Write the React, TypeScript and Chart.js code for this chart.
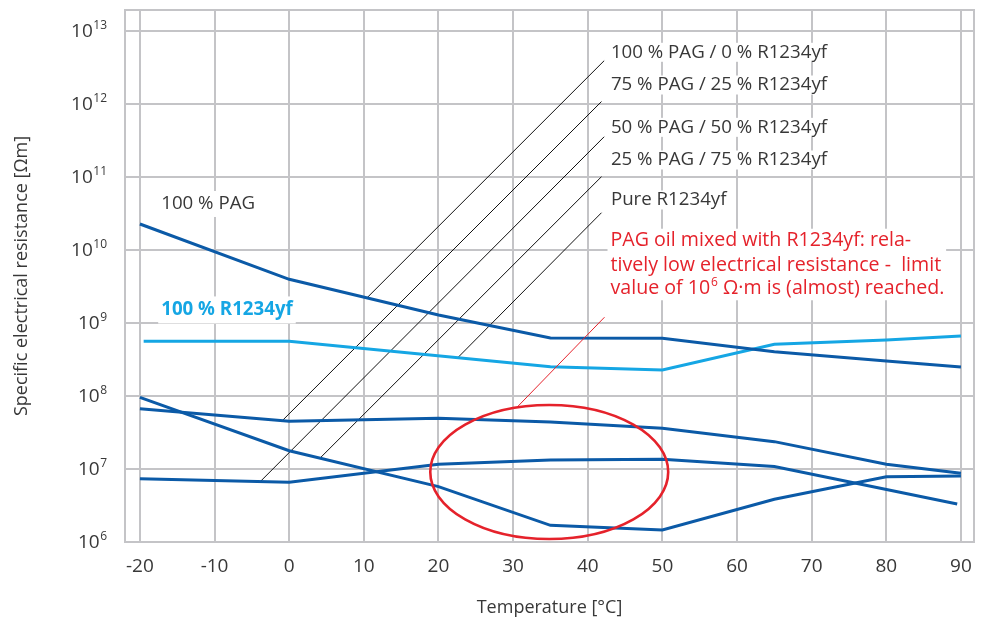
import React, { useEffect, useRef } from 'react';
import { Chart, registerables } from 'chart.js';

Chart.register(...registerables);

// ---------- data ----------
const X_TICKS = [-20, -10, 0, 10, 20, 30, 40, 50, 60, 70, 80, 90];
const Y_EXPONENTS = [6, 7, 8, 9, 10, 11, 12, 13];

const tempsPag100 = [-20, 0, 20, 35, 50, 65, 80, 90];
const pag100 = [2.27e10, 3.97e9, 1.29e9, 6.24e8, 6.2e8, 4.05e8, 3.01e8, 2.49e8];

const tempsR100 = [-19.5, 0, 35, 50, 65, 80, 90];
const r1234yf100 = [5.61e8, 5.61e8, 2.52e8, 2.27e8, 5.11e8, 5.85e8, 6.64e8];

const tempsPag75 = [-20, 0, 20, 35, 50, 65, 80, 90];
const pag75 = [6.7e7, 4.5e7, 4.95e7, 4.41e7, 3.61e7, 2.37e7, 1.16e7, 8.73e6];

const tempsPag50 = [-20, 0, 20, 35, 50, 65, 89.5];
const pag50 = [7.36e6, 6.58e6, 1.16e7, 1.33e7, 1.36e7, 1.08e7, 3.32e6];

const tempsPag25 = [-20, 0, 20, 35, 50, 65, 80, 90];
const pag25 = [9.6e7, 1.78e7, 5.73e6, 1.69e6, 1.46e6, 3.85e6, 7.85e6, 8.0e6];

// leader labels (text, anchor in data coords)
const mixLabels = [
  '100 % PAG / 0 % R1234yf',
  '75 % PAG / 25 % R1234yf',
  '50 % PAG / 50 % R1234yf',
  '25 % PAG / 75 % R1234yf',
  'Pure R1234yf',
];
const mixLabelX = 43.1;
const mixLabelY = [5.11e12, 1.82e12, 4.79e11, 1.71e11, 4.84e10];
// leader lines: from point on curve to label
const leaderFromX = [10.32, -0.84, -3.89, 4.25, 22.55];
const leaderFromY = [2.16e9, 4.69e7, 6.7e6, 1.45e7, 3.32e8];
const leaderToX = [42.2, 41.84, 42.2, 41.84, 41.84];
const leaderToY = [3.92e12, 1.08e12, 3.56e11, 1.01e11, 3.24e10];

const noteLines = [
  'PAG oil mixed with R1234yf: rela-',
  'tively low electrical resistance -  limit',
];
const noteLast = ['value of 10', '6', ' \u03A9\u00B7m is (almost) reached.'];
const noteX = 43.05;
const noteY = [1.34e10, 6.24e9, 2.99e9];
const noteLeaderX = [30.59, 42.24];
const noteLeaderY = [7.13e7, 1.2e9];
const ellipseX = [18.9, 50.78];
const ellipseY = [1.1e6, 7.53e7];

const pagLabel = '100 % PAG';
const pagLabelPos = [-17.15, 4.27e10];
const rLabel = '100 % R1234yf';
const rLabelPos = [-17.15, 1.51e9];

// ---------- styles ----------
const FAMILY = "'Open Sans', 'Noto Sans', sans-serif";
const GRID = '#c4c4c7';
const TEXT = '#383838';
const DARK = '#0b5aa7';
const LIGHT = '#15a6e4';
const RED = '#e5222b';

const pts = (xs: number[], ys: number[]) => xs.map((x, i) => ({ x, y: ys[i] }));

const annotPlugin = {
  id: 'annot',
  beforeDatasetsDraw(chart: any) {
    const { ctx, chartArea: a, scales } = chart;
    const sx = scales.x, sy = scales.y;
    ctx.save();
    // frame top + right
    ctx.strokeStyle = GRID;
    ctx.lineWidth = 2;
    ctx.beginPath();
    ctx.moveTo(a.left, a.top);
    ctx.lineTo(a.right, a.top);
    ctx.lineTo(a.right, a.bottom);
    ctx.stroke();

    const boxText = (txt: string, px: number, py: number, font: string, color: string, h: number) => {
      ctx.font = font;
      const w = ctx.measureText(txt).width;
      ctx.fillStyle = '#fff';
      ctx.fillRect(px - 3, py - h / 2, w + 6, h);
      ctx.fillStyle = color;
      ctx.textAlign = 'left';
      ctx.textBaseline = 'middle';
      ctx.fillText(txt, px, py);
    };

    // leader lines
    ctx.strokeStyle = '#111';
    ctx.lineWidth = 1;
    for (let i = 0; i < leaderFromX.length; i++) {
      ctx.beginPath();
      ctx.moveTo(sx.getPixelForValue(leaderFromX[i]), sy.getPixelForValue(leaderFromY[i]));
      ctx.lineTo(sx.getPixelForValue(leaderToX[i]), sy.getPixelForValue(leaderToY[i]));
      ctx.stroke();
    }

    const labFont = `18.7px ${FAMILY}`;
    mixLabels.forEach((t, i) => {
      boxText(t, sx.getPixelForValue(mixLabelX), sy.getPixelForValue(mixLabelY[i]), labFont, TEXT, 19);
    });

    boxText(pagLabel, sx.getPixelForValue(pagLabelPos[0]), sy.getPixelForValue(pagLabelPos[1]), labFont, TEXT, 26);
    boxText(rLabel, sx.getPixelForValue(rLabelPos[0]), sy.getPixelForValue(rLabelPos[1]), `bold 18.7px ${FAMILY}`, LIGHT, 27);

    // red note block
    const nFont = `19.6px ${FAMILY}`;
    const nSup = `12px ${FAMILY}`;
    const nx = sx.getPixelForValue(noteX);
    const ny = noteY.map((v) => sy.getPixelForValue(v));
    ctx.font = nFont;
    let maxW = 0;
    noteLines.forEach((t) => { maxW = Math.max(maxW, ctx.measureText(t).width); });
    ctx.fillStyle = '#fff';
    ctx.fillRect(nx - 3, ny[0] - 12, maxW + 8, ny[2] - ny[0] + 24);
    ctx.fillStyle = RED;
    ctx.textAlign = 'left';
    ctx.textBaseline = 'middle';
    noteLines.forEach((t, i) => ctx.fillText(t, nx, ny[i]));
    let cx = nx;
    ctx.fillText(noteLast[0], cx, ny[2]);
    cx += ctx.measureText(noteLast[0]).width + 1;
    ctx.font = nSup;
    ctx.fillText(noteLast[1], cx, ny[2] - 6);
    cx += ctx.measureText(noteLast[1]).width;
    ctx.font = nFont;
    ctx.fillText(noteLast[2], cx, ny[2]);
    ctx.restore();
  },
  afterDatasetsDraw(chart: any) {
    const { ctx, scales } = chart;
    const sx = scales.x, sy = scales.y;
    ctx.save();
    ctx.strokeStyle = RED;
    ctx.lineWidth = 1;
    ctx.beginPath();
    ctx.moveTo(sx.getPixelForValue(noteLeaderX[0]), sy.getPixelForValue(noteLeaderY[0]));
    ctx.lineTo(sx.getPixelForValue(noteLeaderX[1]), sy.getPixelForValue(noteLeaderY[1]));
    ctx.stroke();
    const x0 = sx.getPixelForValue(ellipseX[0]), x1 = sx.getPixelForValue(ellipseX[1]);
    const y0 = sy.getPixelForValue(ellipseY[1]), y1 = sy.getPixelForValue(ellipseY[0]);
    ctx.lineWidth = 2.6;
    ctx.beginPath();
    ctx.ellipse((x0 + x1) / 2, (y0 + y1) / 2, (x1 - x0) / 2, (y1 - y0) / 2, 0, 0, Math.PI * 2);
    ctx.stroke();
    ctx.restore();
  },
  afterDraw(chart: any) {
    const { ctx, chartArea: a, scales } = chart;
    const sy = scales.y;
    ctx.save();
    ctx.fillStyle = TEXT;
    ctx.textBaseline = 'middle';
    const right = a.left - 18;
    Y_EXPONENTS.forEach((e) => {
      const py = sy.getPixelForValue(Math.pow(10, e));
      ctx.font = `12px ${FAMILY}`;
      const ew = ctx.measureText(String(e)).width;
      ctx.textAlign = 'left';
      ctx.fillText(String(e), right - ew, py - 5);
      ctx.font = `19px ${FAMILY}`;
      ctx.textAlign = 'right';
      ctx.fillText('10', right - ew - 0.5, py + 1);
    });
    ctx.restore();
  },
};

export default function App() {
  const ref = useRef<HTMLCanvasElement>(null);
  useEffect(() => {
    if (!ref.current) return;
    const line = (label: string, data: any[], color: string) => ({
      label,
      data,
      borderColor: color,
      backgroundColor: color,
      borderWidth: 3,
      pointRadius: 0,
      tension: 0,
      fill: false,
    });
    const chart = new Chart(ref.current, {
      type: 'line',
      data: {
        datasets: [
          line('100 % PAG', pts(tempsPag100, pag100), DARK),
          line('100 % R1234yf', pts(tempsR100, r1234yf100), LIGHT),
          line('75 % PAG / 25 % R1234yf', pts(tempsPag75, pag75), DARK),
          line('50 % PAG / 50 % R1234yf', pts(tempsPag50, pag50), DARK),
          line('25 % PAG / 75 % R1234yf', pts(tempsPag25, pag25), DARK),
        ],
      },
      options: {
        responsive: false,
        animation: false,
        layout: { padding: { top: 10, right: 7, left: 0, bottom: 0 } },
        plugins: { legend: { display: false }, tooltip: { enabled: false } },
        scales: {
          x: {
            type: 'linear',
            min: -22,
            max: 91.75,
            afterBuildTicks: (s: any) => { s.ticks = X_TICKS.map((v) => ({ value: v })); },
            afterFit: (s: any) => { s.height = 78; s.paddingLeft = 0; s.paddingRight = 0; },
            grid: { color: GRID, lineWidth: 2, drawTicks: false },
            border: { color: GRID, width: 2 },
            ticks: { color: TEXT, font: { family: FAMILY, size: 19 }, padding: 13, maxRotation: 0, autoSkip: false, callback: (v: any) => String(v) },
            title: { display: true, text: 'Temperature [°C]', color: TEXT, font: { family: FAMILY, size: 18 }, padding: { top: 0, bottom: 1 } },
          },
          y: {
            type: 'logarithmic',
            min: 1e6,
            max: Math.pow(10, 13.2877),
            afterBuildTicks: (s: any) => { s.ticks = Y_EXPONENTS.map((e) => ({ value: Math.pow(10, e) })); },
            afterFit: (s: any) => { s.width = 125; s.paddingTop = 0; s.paddingBottom = 0; },
            grid: { color: GRID, lineWidth: 2, drawTicks: false },
            border: { color: GRID, width: 2 },
            ticks: { display: false },
            title: { display: true, text: 'Specific electrical resistance [Ωm]', color: TEXT, font: { family: FAMILY, size: 18 }, padding: { top: 11, bottom: 0 } },
          },
        },
      },
      plugins: [annotPlugin],
    } as any);
    return () => chart.destroy();
  }, []);
  return (
    <div style={{ position: 'absolute', left: 0, top: 0, width: 981, height: 620, overflow: 'hidden', background: '#fff' }}>
      <canvas ref={ref} width={981} height={620} style={{ display: 'block' }} />
    </div>
  );
}
